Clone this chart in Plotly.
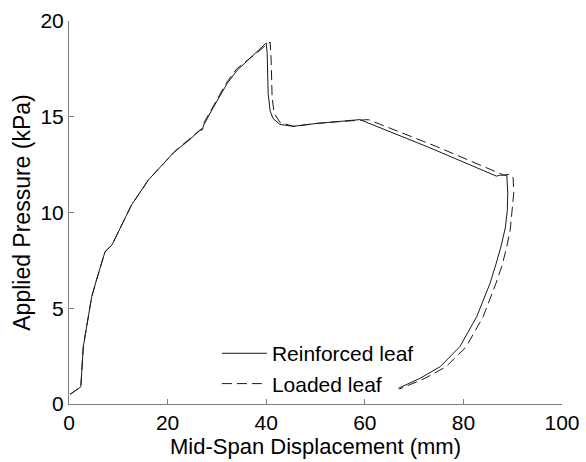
import plotly.graph_objects as go

# Reinforced leaf (solid)
reinf_x = [0.2, 2.4, 2.9, 3.6, 4.6, 5.6, 7.3, 8.7, 11.4, 12.7, 16.1, 19.8, 21.5, 24.0, 26.6, 27.0, 27.4,
           29.3, 32.0, 34.0, 36.0, 38.0, 40.0, 40.2, 40.4, 40.8, 41.4, 42.8, 45.5, 50.2, 55.0, 59.0,
           73.0, 86.7, 87.5, 88.8, 89.0, 88.9, 88.5, 87.6, 86.6, 85.4, 82.7, 79.3, 75.3, 71.2, 66.8]
reinf_y = [0.5, 0.9, 3.0, 4.1, 5.6, 6.5, 7.95, 8.3, 9.7, 10.4, 11.7, 12.7, 13.2, 13.7, 14.3, 14.3, 14.6,
           15.5, 16.7, 17.4, 17.9, 18.4, 18.85, 18.3, 16.2, 15.3, 14.9, 14.6, 14.5, 14.65, 14.75, 14.85,
           13.4, 11.9, 11.95, 11.95, 11.0, 10.1, 9.2, 8.2, 7.3, 6.3, 4.56, 3.0, 1.95, 1.34, 0.82]

# Loaded leaf (dashed)
loaded_x = [0.2, 2.4, 2.9, 3.6, 4.6, 5.6, 7.3, 8.7, 11.4, 12.7, 16.1, 19.8, 21.5, 24.0, 26.6, 27.0, 27.4,
            29.3, 32.0, 34.0, 36.0, 38.0, 40.0, 40.8, 41.0, 41.2, 41.6, 42.8, 45.5, 50.2, 55.0, 60.7,
            74.5, 88.2, 89.5, 90.1, 90.2, 89.9, 89.5, 88.7, 87.8, 86.6, 84.0, 80.6, 76.5, 72.2, 67.0]
loaded_y = [0.5, 0.9, 3.0, 4.1, 5.6, 6.5, 7.95, 8.3, 9.7, 10.4, 11.7, 12.7, 13.2, 13.75, 14.35, 14.4, 14.7,
            15.6, 16.8, 17.5, 17.9, 18.3, 18.7, 18.9, 18.0, 16.0, 15.2, 14.7, 14.5, 14.65, 14.75, 14.85,
            13.45, 11.95, 12.0, 11.8, 11.0, 10.0, 9.1, 8.1, 7.2, 6.3, 4.56, 3.0, 1.95, 1.34, 0.78]

x_ticks = [0, 20, 40, 60, 80, 100]
y_ticks = [0, 5, 10, 15, 20]

FONT = "Liberation Sans"
AXC = "#7f7f7f"

fig = go.Figure()
fig.add_trace(go.Scatter(x=reinf_x, y=reinf_y, mode="lines", name="Reinforced leaf",
                         line=dict(color="#1a1a1a", width=1, dash="solid")))
fig.add_trace(go.Scatter(x=loaded_x, y=loaded_y, mode="lines", name="Loaded leaf",
                         line=dict(color="#1a1a1a", width=1, dash="10px,5px")))

fig.update_layout(
    width=586, height=462,
    margin=dict(l=69, r=24, t=21, b=58),
    paper_bgcolor="white", plot_bgcolor="white",
    font=dict(family=FONT, size=21, color="black"),
    showlegend=True,
    legend=dict(x=0.3, y=0.185, xanchor="left", yanchor="top",
                bgcolor="rgba(0,0,0,0)", font=dict(size=21), itemwidth=45,
                tracegroupgap=0),
    xaxis=dict(range=[0, 100], tickvals=x_ticks, showline=True, linecolor=AXC, linewidth=1,
               ticks="inside", ticklen=5, tickcolor=AXC, showgrid=False, zeroline=False,
               automargin=False,
               title=dict(text="Mid-Span Displacement (mm)", standoff=2, font=dict(size=22)),
               tickfont=dict(size=21)),
    yaxis=dict(range=[0, 20], tickvals=y_ticks, showline=True, linecolor=AXC, linewidth=1,
               ticks="inside", ticklen=5, tickcolor=AXC, showgrid=False, zeroline=False,
               automargin=False,
               title=dict(text="Applied Pressure (kPa)", standoff=3, font=dict(size=23)),
               tickfont=dict(size=21)),
)

fig.write_html("out.html")
